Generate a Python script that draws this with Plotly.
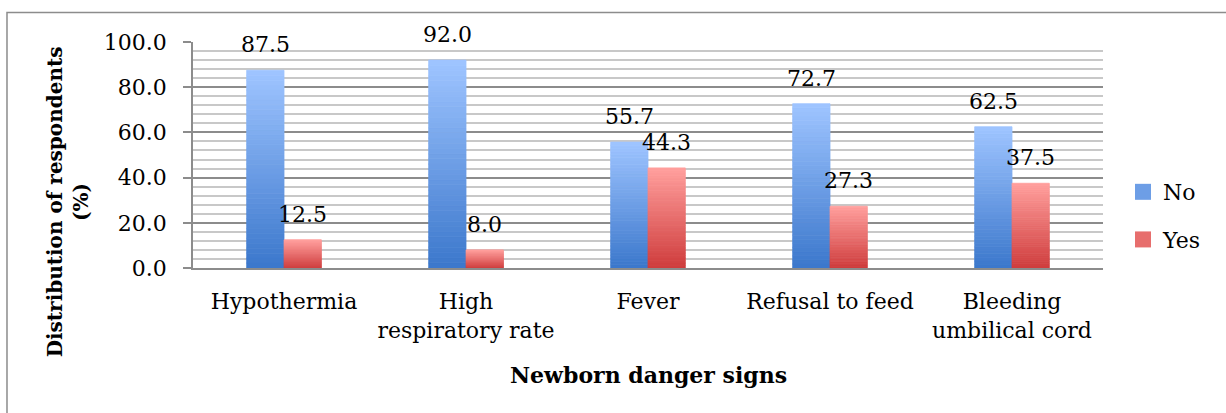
import plotly.graph_objects as go

categories = ["Hypothermia", "High<br>respiratory rate", "Fever", "Refusal to feed", "Bleeding<br>umbilical cord"]
no_values = [87.5, 92.0, 55.7, 72.7, 62.5]
yes_values = [12.5, 8.0, 44.3, 27.3, 37.5]
y_ticks = [0, 20, 40, 60, 80, 100]
y_tick_labels = ["0.0", "20.0", "40.0", "60.0", "80.0", "100.0"]

FONT = "DejaVu Serif"
FS = 22
N_SLICES = 40
W, H = 1226, 413
ML, MR, MT, MB = 193, 123, 42, 145
BARGAP = 0.59

def lerp(c0, c1, t):
    return "rgb(%d,%d,%d)" % tuple(round(a + (b - a) * t) for a, b in zip(c0, c1))

series = [
    ("No", no_values, (0x3C, 0x78, 0xCC), (0x9E, 0xC4, 0xFF)),
    ("Yes", yes_values, (0xCF, 0x3E, 0x3E), (0xFF, 0x9E, 0x9C)),
]

# half-width of one bar in px, used to centre labels over each bar of a group
bar_px = (W - ML - MR) / len(categories) * (1 - BARGAP) / len(series)

fig = go.Figure()
for si, (name, vals, bottom, top) in enumerate(series):
    for k in range(N_SLICES):
        t = k / (N_SLICES - 1)
        col = lerp(bottom, top, t)
        fig.add_trace(go.Bar(
            x=categories,
            y=[v / N_SLICES for v in vals],
            base=[v * k / N_SLICES for v in vals],
            offsetgroup=name,
            name=name,
            legendgroup=name,
            showlegend=False,
            marker=dict(color=col, line=dict(width=0.8, color=col)),
            hoverinfo="skip",
        ))
    fig.add_trace(go.Scatter(
        x=[categories[0]], y=[None], mode="markers", name=name, legendgroup=name,
        showlegend=True,
        marker=dict(symbol="square", size=16, color=lerp(bottom, top, 0.5)),
    ))
    xshift = (si - (len(series) - 1) / 2) * bar_px
    for c, v in zip(categories, vals):
        fig.add_annotation(
            x=c, y=v, xref="x", yref="y", text=f"{v:.1f}", showarrow=False,
            xanchor="center", yanchor="bottom", xshift=xshift, yshift=11,
            font=dict(family=FONT, size=FS, color="black"),
        )

fig.update_layout(
    width=W, height=H,
    margin=dict(l=ML, r=MR, t=MT, b=MB, autoexpand=False),
    paper_bgcolor="white", plot_bgcolor="white",
    barmode="group", bargap=BARGAP, bargroupgap=0,
    font=dict(family=FONT, size=FS, color="black"),
    legend=dict(x=1.022, y=0.23, xanchor="left", yanchor="middle",
                font=dict(family=FONT, size=FS), tracegroupgap=16,
                traceorder="grouped", itemwidth=30),
    showlegend=True,
)
fig.update_xaxes(
    showline=True, linecolor="#8c8c8c", linewidth=1.5,
    ticks="", showgrid=False, tickfont=dict(family=FONT, size=FS),
    ticklabelstandoff=13, automargin=False,
)
fig.update_yaxes(
    range=[0, 100], tickvals=y_ticks, ticktext=y_tick_labels,
    showline=True, linecolor="#8c8c8c", linewidth=1.5,
    ticks="outside", ticklen=8, tickcolor="#8c8c8c", tickwidth=1.5,
    showgrid=True, gridcolor="#8c8c8c", gridwidth=1.5,
    minor=dict(dtick=4, showgrid=True, gridcolor="#c8c8c8", gridwidth=1.5),
    tickfont=dict(family=FONT, size=FS), ticklabelstandoff=12,
    zeroline=False, automargin=False,
)
fig.add_annotation(
    text="<b>Distribution of respondents<br>(%)</b>", textangle=-90,
    xref="paper", yref="paper", x=-0.137, y=0.292, xanchor="center", yanchor="middle",
    showarrow=False, font=dict(family=FONT, size=20, color="black"),
)
fig.add_annotation(
    text="<b>Newborn danger signs</b>",
    xref="paper", yref="paper", x=0.5, y=-0.473, xanchor="center", yanchor="middle",
    showarrow=False, font=dict(family=FONT, size=FS, color="black"),
)
fig.add_shape(type="rect", xref="paper", yref="paper", x0=-0.2044, x1=1.2, y0=-0.8, y1=1.1305,
              line=dict(color="#8c8c8c", width=1.5), layer="below")

fig.write_html("out.html", config={"displayModeBar": False},
               post_script="document.body.style.margin='0';")
